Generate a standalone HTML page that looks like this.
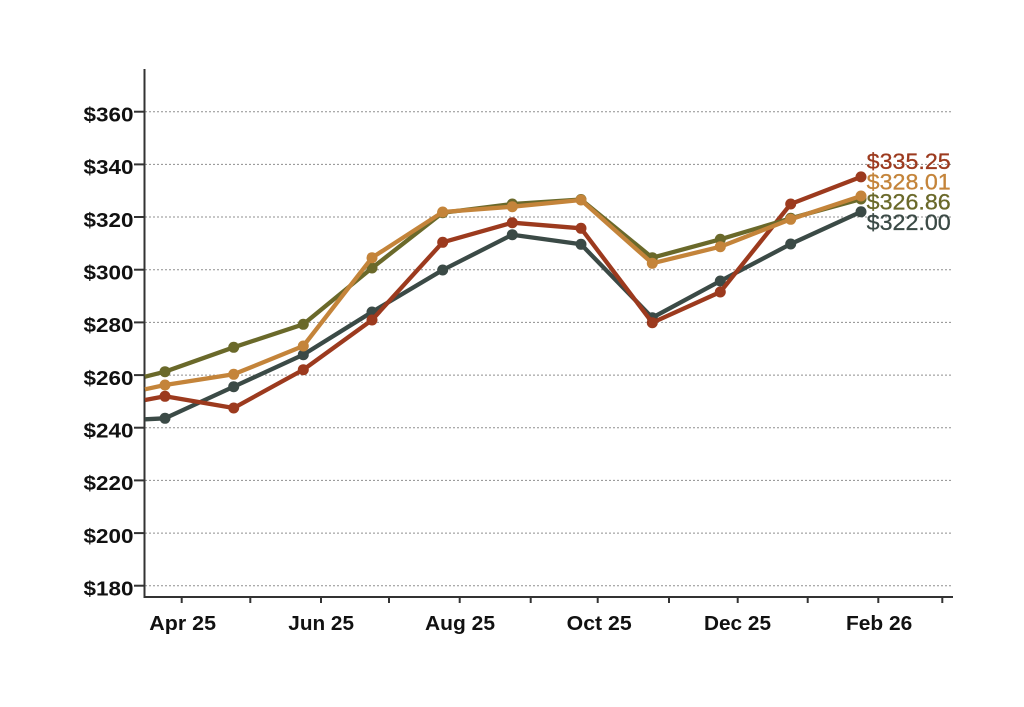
<!DOCTYPE html>
<html>
<head>
<meta charset="utf-8">
<style>
  html, body { margin: 0; padding: 0; background: #ffffff; }
  svg { display: block; }
  .ylab { font-family: "Liberation Sans", sans-serif; font-weight: bold; font-size: 20.5px; fill: #111; }
  .xlab { font-family: "Liberation Sans", sans-serif; font-weight: bold; font-size: 20px; fill: #111; }
  .vlab { font-family: "Liberation Sans", sans-serif; font-size: 22px; stroke-width: 0.3px; }
</style>
</head>
<body>
<svg width="1024" height="707" viewBox="0 0 1024 707" xmlns="http://www.w3.org/2000/svg">
  <rect width="1024" height="707" fill="#ffffff"/>

  <!-- gridlines -->
  <g stroke="#8f8f8f" stroke-width="1" stroke-dasharray="2,2">
    <line x1="145" y1="111.7" x2="953" y2="111.7"/>
    <line x1="145" y1="164.4" x2="953" y2="164.4"/>
    <line x1="145" y1="217.0" x2="953" y2="217.0"/>
    <line x1="145" y1="269.7" x2="953" y2="269.7"/>
    <line x1="145" y1="322.4" x2="953" y2="322.4"/>
    <line x1="145" y1="375.1" x2="953" y2="375.1"/>
    <line x1="145" y1="427.7" x2="953" y2="427.7"/>
    <line x1="145" y1="480.4" x2="953" y2="480.4"/>
    <line x1="145" y1="533.1" x2="953" y2="533.1"/>
    <line x1="145" y1="585.7" x2="953" y2="585.7"/>
  </g>

  <!-- axes -->
  <g stroke="#333" stroke-width="2" fill="none">
    <line x1="144.5" y1="69" x2="144.5" y2="598"/>
    <line x1="143.5" y1="597" x2="953" y2="597"/>
    <!-- y ticks -->
    <line x1="134" y1="111.7" x2="144" y2="111.7"/>
    <line x1="134" y1="164.4" x2="144" y2="164.4"/>
    <line x1="134" y1="217.0" x2="144" y2="217.0"/>
    <line x1="134" y1="269.7" x2="144" y2="269.7"/>
    <line x1="134" y1="322.4" x2="144" y2="322.4"/>
    <line x1="134" y1="375.1" x2="144" y2="375.1"/>
    <line x1="134" y1="427.7" x2="144" y2="427.7"/>
    <line x1="134" y1="480.4" x2="144" y2="480.4"/>
    <line x1="134" y1="533.1" x2="144" y2="533.1"/>
    <line x1="134" y1="585.7" x2="144" y2="585.7"/>
    <!-- x ticks -->
    <line x1="181.7" y1="597" x2="181.7" y2="603"/>
    <line x1="250.3" y1="597" x2="250.3" y2="603"/>
    <line x1="321" y1="597" x2="321" y2="603"/>
    <line x1="389" y1="597" x2="389" y2="603"/>
    <line x1="459.7" y1="597" x2="459.7" y2="603"/>
    <line x1="530.7" y1="597" x2="530.7" y2="603"/>
    <line x1="597.7" y1="597" x2="597.7" y2="603"/>
    <line x1="669" y1="597" x2="669" y2="603"/>
    <line x1="737.7" y1="597" x2="737.7" y2="603"/>
    <line x1="807.7" y1="597" x2="807.7" y2="603"/>
    <line x1="878.3" y1="597" x2="878.3" y2="603"/>
    <line x1="942.3" y1="597" x2="942.3" y2="603"/>
  </g>

  <!-- y labels -->
  <text class="ylab" x="83.5" y="121.5" textLength="50" lengthAdjust="spacingAndGlyphs">$360</text>
  <text class="ylab" x="83.5" y="174.2" textLength="50" lengthAdjust="spacingAndGlyphs">$340</text>
  <text class="ylab" x="83.5" y="226.8" textLength="50" lengthAdjust="spacingAndGlyphs">$320</text>
  <text class="ylab" x="83.5" y="279.5" textLength="50" lengthAdjust="spacingAndGlyphs">$300</text>
  <text class="ylab" x="83.5" y="332.2" textLength="50" lengthAdjust="spacingAndGlyphs">$280</text>
  <text class="ylab" x="83.5" y="384.9" textLength="50" lengthAdjust="spacingAndGlyphs">$260</text>
  <text class="ylab" x="83.5" y="437.5" textLength="50" lengthAdjust="spacingAndGlyphs">$240</text>
  <text class="ylab" x="83.5" y="490.2" textLength="50" lengthAdjust="spacingAndGlyphs">$220</text>
  <text class="ylab" x="83.5" y="542.9" textLength="50" lengthAdjust="spacingAndGlyphs">$200</text>
  <text class="ylab" x="83.5" y="595.5" textLength="50" lengthAdjust="spacingAndGlyphs">$180</text>

  <!-- x labels -->
  <text class="xlab" x="149.3" y="630" textLength="66.7" lengthAdjust="spacingAndGlyphs">Apr 25</text>
  <text class="xlab" x="288.3" y="630" textLength="65.7" lengthAdjust="spacingAndGlyphs">Jun 25</text>
  <text class="xlab" x="425" y="630" textLength="70" lengthAdjust="spacingAndGlyphs">Aug 25</text>
  <text class="xlab" x="566.7" y="630" textLength="65" lengthAdjust="spacingAndGlyphs">Oct 25</text>
  <text class="xlab" x="704" y="630" textLength="67" lengthAdjust="spacingAndGlyphs">Dec 25</text>
  <text class="xlab" x="846" y="630" textLength="66.3" lengthAdjust="spacingAndGlyphs">Feb 26</text>

  <!-- series: dark -->
  <g stroke="#3b4a46" fill="#3b4a46">
    <polyline fill="none" stroke-width="4.3" stroke-linejoin="round" points="145,419.3 165,418.3 233.7,386.7 303.3,354.7 372,312 442.7,270 512.3,234.7 581,244.3 652.3,317.7 720.3,281 790.7,244 861,211.8"/>
    <g stroke="none">
      <circle cx="165" cy="418.3" r="5.5"/><circle cx="233.7" cy="386.7" r="5.5"/><circle cx="303.3" cy="354.7" r="5.5"/><circle cx="372" cy="312" r="5.5"/><circle cx="442.7" cy="270" r="5.5"/><circle cx="512.3" cy="234.7" r="5.5"/><circle cx="581" cy="244.3" r="5.5"/><circle cx="652.3" cy="317.7" r="5.5"/><circle cx="720.3" cy="281" r="5.5"/><circle cx="790.7" cy="244" r="5.5"/><circle cx="861" cy="211.8" r="5.5"/>
    </g>
  </g>

  <!-- series: red -->
  <g stroke="#9c3a1e" fill="#9c3a1e">
    <polyline fill="none" stroke-width="4.3" stroke-linejoin="round" points="145,400 165,396.3 233.7,408 303.3,369.7 372,320 442.7,242.3 512.3,222.7 581,228.3 652.3,322.7 720.3,292 790.7,204 861,176.9"/>
    <g stroke="none">
      <circle cx="165" cy="396.3" r="5.5"/><circle cx="233.7" cy="408" r="5.5"/><circle cx="303.3" cy="369.7" r="5.5"/><circle cx="372" cy="320" r="5.5"/><circle cx="442.7" cy="242.3" r="5.5"/><circle cx="512.3" cy="222.7" r="5.5"/><circle cx="581" cy="228.3" r="5.5"/><circle cx="652.3" cy="322.7" r="5.5"/><circle cx="720.3" cy="292" r="5.5"/><circle cx="790.7" cy="204" r="5.5"/><circle cx="861" cy="176.9" r="5.5"/>
    </g>
  </g>

  <!-- series: olive -->
  <g stroke="#6a692a" fill="#6a692a">
    <polyline fill="none" stroke-width="4.3" stroke-linejoin="round" points="145,376.7 165,371.7 233.7,347.3 303.3,324.3 372,268 442.7,212.7 512.3,204 581,199.5 652.3,257.7 720.3,239.3 790.7,218.3 861,199"/>
    <g stroke="none">
      <circle cx="165" cy="371.7" r="5.5"/><circle cx="233.7" cy="347.3" r="5.5"/><circle cx="303.3" cy="324.3" r="5.5"/><circle cx="372" cy="268" r="5.5"/><circle cx="442.7" cy="212.7" r="5.5"/><circle cx="512.3" cy="204" r="5.5"/><circle cx="581" cy="199.5" r="5.5"/><circle cx="652.3" cy="257.7" r="5.5"/><circle cx="720.3" cy="239.3" r="5.5"/><circle cx="790.7" cy="218.3" r="5.5"/><circle cx="861" cy="199" r="5.5"/>
    </g>
  </g>

  <!-- series: tan -->
  <g stroke="#c4843a" fill="#c4843a">
    <polyline fill="none" stroke-width="4.3" stroke-linejoin="round" points="145,389.3 165,385 233.7,374.3 303.3,346 372,257.7 442.7,212 512.3,206.7 581,200 652.3,263.3 720.3,246.7 790.7,219.3 861,196"/>
    <g stroke="none">
      <circle cx="165" cy="385" r="5.5"/><circle cx="233.7" cy="374.3" r="5.5"/><circle cx="303.3" cy="346" r="5.5"/><circle cx="372" cy="257.7" r="5.5"/><circle cx="442.7" cy="212" r="5.5"/><circle cx="512.3" cy="206.7" r="5.5"/><circle cx="581" cy="200" r="5.5"/><circle cx="652.3" cy="263.3" r="5.5"/><circle cx="720.3" cy="246.7" r="5.5"/><circle cx="790.7" cy="219.3" r="5.5"/><circle cx="861" cy="196" r="5.5"/>
    </g>
  </g>

  <!-- end labels -->
  <text class="vlab" x="866.7" y="169" fill="#9c3a1e" stroke="#9c3a1e" textLength="84" lengthAdjust="spacingAndGlyphs">$335.25</text>
  <text class="vlab" x="866.7" y="189.5" fill="#c4843a" stroke="#c4843a" textLength="84" lengthAdjust="spacingAndGlyphs">$328.01</text>
  <text class="vlab" x="866.7" y="209.5" fill="#6a692a" stroke="#6a692a" textLength="84" lengthAdjust="spacingAndGlyphs">$326.86</text>
  <text class="vlab" x="866.7" y="230" fill="#3b4a46" stroke="#3b4a46" textLength="84" lengthAdjust="spacingAndGlyphs">$322.00</text>
</svg>
</body>
</html>
